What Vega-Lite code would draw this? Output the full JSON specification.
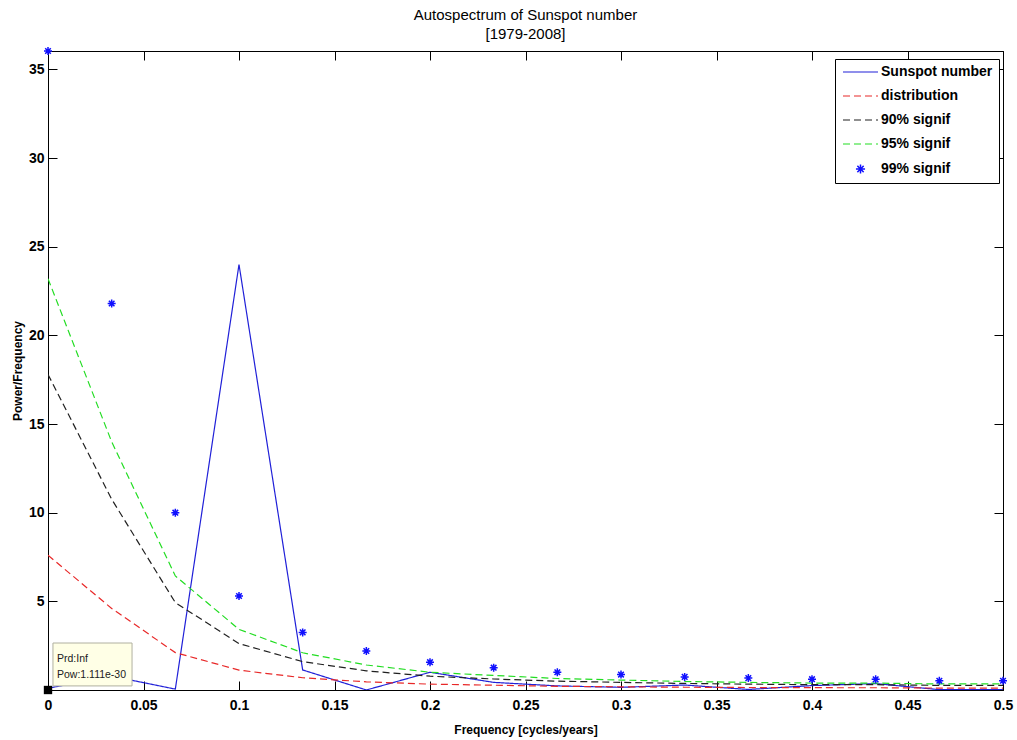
{
  "$schema": "https://vega.github.io/schema/vega-lite/v6.json",
  "width": 955,
  "height": 639,
  "autosize": "none",
  "padding": {"left": 48, "top": 51, "right": 14, "bottom": 50},
  "background": "white",
  "title": {
    "text": ["Autospectrum of Sunspot number", "[1979-2008]"],
    "font": "Liberation Sans",
    "fontSize": 15,
    "fontWeight": "normal",
    "color": "#000",
    "anchor": "middle",
    "offset": 2,
    "lineHeight": 19
  },
  "config": {
    "view": {"stroke": "#000", "strokeWidth": 1},
    "axis": {
      "labelFont": "Liberation Sans",
      "labelFontSize": 14,
      "labelFontWeight": "bold",
      "labelColor": "#000",
      "titleFont": "Liberation Sans",
      "titleFontSize": 12,
      "titleFontWeight": "bold",
      "titleColor": "#000",
      "domainColor": "#000",
      "tickColor": "#000",
      "tickSize": -9,
      "grid": false
    }
  },
  "datasets": {
    "spec": [
      {"f": 0, "series": "Sunspot number", "power": 0.1},
      {"f": 0.033333, "series": "Sunspot number", "power": 0.78},
      {"f": 0.066667, "series": "Sunspot number", "power": 0.05},
      {"f": 0.1, "series": "Sunspot number", "power": 24.0},
      {"f": 0.133333, "series": "Sunspot number", "power": 1.13},
      {"f": 0.166667, "series": "Sunspot number", "power": 0.0},
      {"f": 0.2, "series": "Sunspot number", "power": 1.0},
      {"f": 0.233333, "series": "Sunspot number", "power": 0.43},
      {"f": 0.266667, "series": "Sunspot number", "power": 0.23},
      {"f": 0.3, "series": "Sunspot number", "power": 0.15},
      {"f": 0.333333, "series": "Sunspot number", "power": 0.28},
      {"f": 0.366667, "series": "Sunspot number", "power": 0.03},
      {"f": 0.4, "series": "Sunspot number", "power": 0.25},
      {"f": 0.433333, "series": "Sunspot number", "power": 0.36},
      {"f": 0.466667, "series": "Sunspot number", "power": 0.02},
      {"f": 0.5, "series": "Sunspot number", "power": 0.02},
      {"f": 0, "series": "distribution", "power": 7.6},
      {"f": 0.033333, "series": "distribution", "power": 4.6},
      {"f": 0.066667, "series": "distribution", "power": 2.11},
      {"f": 0.1, "series": "distribution", "power": 1.12},
      {"f": 0.133333, "series": "distribution", "power": 0.69},
      {"f": 0.166667, "series": "distribution", "power": 0.46},
      {"f": 0.2, "series": "distribution", "power": 0.33},
      {"f": 0.233333, "series": "distribution", "power": 0.27},
      {"f": 0.266667, "series": "distribution", "power": 0.21},
      {"f": 0.3, "series": "distribution", "power": 0.18},
      {"f": 0.333333, "series": "distribution", "power": 0.156},
      {"f": 0.366667, "series": "distribution", "power": 0.141},
      {"f": 0.4, "series": "distribution", "power": 0.129},
      {"f": 0.433333, "series": "distribution", "power": 0.127},
      {"f": 0.466667, "series": "distribution", "power": 0.11},
      {"f": 0.5, "series": "distribution", "power": 0.11},
      {"f": 0, "series": "90% signif", "power": 17.8},
      {"f": 0.033333, "series": "90% signif", "power": 10.76},
      {"f": 0.066667, "series": "90% signif", "power": 4.93},
      {"f": 0.1, "series": "90% signif", "power": 2.62},
      {"f": 0.133333, "series": "90% signif", "power": 1.6},
      {"f": 0.166667, "series": "90% signif", "power": 1.08},
      {"f": 0.2, "series": "90% signif", "power": 0.78},
      {"f": 0.233333, "series": "90% signif", "power": 0.62},
      {"f": 0.266667, "series": "90% signif", "power": 0.5},
      {"f": 0.3, "series": "90% signif", "power": 0.43},
      {"f": 0.333333, "series": "90% signif", "power": 0.37},
      {"f": 0.366667, "series": "90% signif", "power": 0.33},
      {"f": 0.4, "series": "90% signif", "power": 0.3},
      {"f": 0.433333, "series": "90% signif", "power": 0.3},
      {"f": 0.466667, "series": "90% signif", "power": 0.26},
      {"f": 0.5, "series": "90% signif", "power": 0.26},
      {"f": 0, "series": "95% signif", "power": 23.2},
      {"f": 0.033333, "series": "95% signif", "power": 14.0},
      {"f": 0.066667, "series": "95% signif", "power": 6.43},
      {"f": 0.1, "series": "95% signif", "power": 3.42},
      {"f": 0.133333, "series": "95% signif", "power": 2.1},
      {"f": 0.166667, "series": "95% signif", "power": 1.41},
      {"f": 0.2, "series": "95% signif", "power": 1.0},
      {"f": 0.233333, "series": "95% signif", "power": 0.82},
      {"f": 0.266667, "series": "95% signif", "power": 0.65},
      {"f": 0.3, "series": "95% signif", "power": 0.56},
      {"f": 0.333333, "series": "95% signif", "power": 0.48},
      {"f": 0.366667, "series": "95% signif", "power": 0.43},
      {"f": 0.4, "series": "95% signif", "power": 0.39},
      {"f": 0.433333, "series": "95% signif", "power": 0.39},
      {"f": 0.466667, "series": "95% signif", "power": 0.34},
      {"f": 0.5, "series": "95% signif", "power": 0.34},
      {"f": 0, "series": "99% signif", "power": 36.04},
      {"f": 0.033333, "series": "99% signif", "power": 21.8},
      {"f": 0.066667, "series": "99% signif", "power": 10.0},
      {"f": 0.1, "series": "99% signif", "power": 5.3},
      {"f": 0.133333, "series": "99% signif", "power": 3.25},
      {"f": 0.166667, "series": "99% signif", "power": 2.2},
      {"f": 0.2, "series": "99% signif", "power": 1.57},
      {"f": 0.233333, "series": "99% signif", "power": 1.26},
      {"f": 0.266667, "series": "99% signif", "power": 1.0},
      {"f": 0.3, "series": "99% signif", "power": 0.87},
      {"f": 0.333333, "series": "99% signif", "power": 0.74},
      {"f": 0.366667, "series": "99% signif", "power": 0.67},
      {"f": 0.4, "series": "99% signif", "power": 0.61},
      {"f": 0.433333, "series": "99% signif", "power": 0.6},
      {"f": 0.466667, "series": "99% signif", "power": 0.52},
      {"f": 0.5, "series": "99% signif", "power": 0.52}
    ],
    "tip": [{"period": "Prd:Inf", "pow": "Pow:1.111e-30"}]
  },
  "layer": [
    {
      "layer": [
        {
          "data": {"name": "spec"},
          "transform": [{"filter": "datum.series !== '99% signif'"}],
          "mark": {"type": "line", "strokeWidth": 1.2, "clip": true},
          "encoding": {
            "x": {
              "field": "f", "type": "quantitative",
              "scale": {"domain": [0, 0.5], "nice": false, "zero": false},
              "axis": {
                "title": "Frequency [cycles/years]",
                "values": [0, 0.05, 0.1, 0.15, 0.2, 0.25, 0.3, 0.35, 0.4, 0.45, 0.5],
                "format": "~g",
                "labelPadding": 17,
                "labelFlush": false,
                "titlePadding": 12
              }
            },
            "y": {
              "field": "power", "type": "quantitative",
              "scale": {"domain": [0, 36.04], "nice": false, "zero": false},
              "axis": {
                "title": "Power/Frequency",
                "values": [5, 10, 15, 20, 25, 30, 35],
                "labelPadding": 13,
                "titlePadding": 4
              }
            },
            "color": {
              "field": "series", "type": "nominal",
              "scale": {
                "domain": ["Sunspot number", "distribution", "90% signif", "95% signif", "99% signif"],
                "range": ["#2020d8", "#e82828", "#202020", "#22dd22", "#1010ff"]
              },
              "legend": {
                "title": null,
                "orient": "none",
                "legendX": 787,
                "legendY": 8,
                "padding": 6,
                "fillColor": "white",
                "strokeColor": "#000",
                "symbolType": "stroke",
                "symbolSize": 1225,
                "symbolStrokeWidth": 1.2,
                "labelFont": "Liberation Sans",
                "labelFontSize": 14,
                "labelFontWeight": "bold",
                "labelColor": "#000",
                "labelOffset": 3,
                "labelLimit": 300,
                "rowPadding": 10,
                "encode": {
                  "symbols": {
                    "update": {
                      "shape": {"signal": "datum.value === '99% signif' ? 'M0,-0.26L0,0.26M-0.26,0L0.26,0M-0.18,-0.18L0.18,0.18M-0.18,0.18L0.18,-0.18' : 'stroke'"},
                      "stroke": {"scale": "color", "field": "value"},
                      "strokeWidth": {"signal": "datum.value === '99% signif' ? 1.5 : 1.2"},
                      "x": {"value": 19.5}
                    }
                  },
                  "labels": {
                    "update": {
                      "x": {"value": 40}
                    }
                  }
                }
              }
            },
            "strokeDash": {
              "field": "series", "type": "nominal",
              "scale": {
                "domain": ["Sunspot number", "distribution", "90% signif", "95% signif", "99% signif"],
                "range": [[1, 0], [7, 4], [7, 4], [7, 4], [1, 0]]
              },
              "legend": null
            }
          }
        },
        {
          "data": {"name": "spec"},
          "transform": [{"filter": "datum.series === '99% signif'"}],
          "mark": {
            "type": "point",
            "shape": "M0,-1L0,1M-1,0L1,0M-0.7,-0.7L0.7,0.7M-0.7,0.7L0.7,-0.7",
            "filled": false,
            "size": 64,
            "strokeWidth": 1.5,
            "color": "#1010ff",
            "opacity": 1
          },
          "encoding": {
            "x": {"field": "f", "type": "quantitative"},
            "y": {"field": "power", "type": "quantitative"}
          }
        },
        {
          "data": {"name": "tip"},
          "mark": {"type": "rect", "fill": "#ffffe6", "stroke": "#b0b0a0", "strokeWidth": 1},
          "encoding": {
            "x": {"datum": 0.0026, "type": "quantitative"},
            "x2": {"datum": 0.044},
            "y": {"datum": 0.23, "type": "quantitative"},
            "y2": {"datum": 2.65}
          }
        },
        {
          "data": {"name": "tip"},
          "mark": {"type": "text", "align": "left", "baseline": "middle", "font": "Liberation Sans", "fontSize": 10.5, "color": "#202020", "dx": 4},
          "encoding": {
            "x": {"datum": 0.0026, "type": "quantitative"},
            "y": {"datum": 1.75, "type": "quantitative"},
            "text": {"field": "period", "type": "nominal"}
          }
        },
        {
          "data": {"name": "tip"},
          "mark": {"type": "text", "align": "left", "baseline": "middle", "font": "Liberation Sans", "fontSize": 10.5, "color": "#202020", "dx": 4},
          "encoding": {
            "x": {"datum": 0.0026, "type": "quantitative"},
            "y": {"datum": 0.85, "type": "quantitative"},
            "text": {"field": "pow", "type": "nominal"}
          }
        },
        {
          "data": {"name": "tip"},
          "mark": {"type": "point", "shape": "square", "filled": true, "color": "#000", "size": 70, "opacity": 1, "clip": false},
          "encoding": {
            "x": {"datum": 0, "type": "quantitative"},
            "y": {"datum": 0, "type": "quantitative"}
          }
        }
      ]
    },
    {
      "data": {"name": "tip"},
      "mark": {"type": "point", "opacity": 0},
      "encoding": {
        "x": {
          "datum": 0, "type": "quantitative",
          "scale": {"domain": [0, 0.5], "nice": false, "zero": false},
          "axis": {"orient": "top", "title": null, "labels": false, "values": [0, 0.05, 0.1, 0.15, 0.2, 0.25, 0.3, 0.35, 0.4, 0.45, 0.5]}
        },
        "y": {
          "datum": 0, "type": "quantitative",
          "scale": {"domain": [0, 36.04], "nice": false, "zero": false},
          "axis": {"orient": "right", "title": null, "labels": false, "values": [5, 10, 15, 20, 25, 30, 35]}
        }
      }
    }
  ],
  "resolve": {"scale": {"x": "independent", "y": "independent"}}
}
